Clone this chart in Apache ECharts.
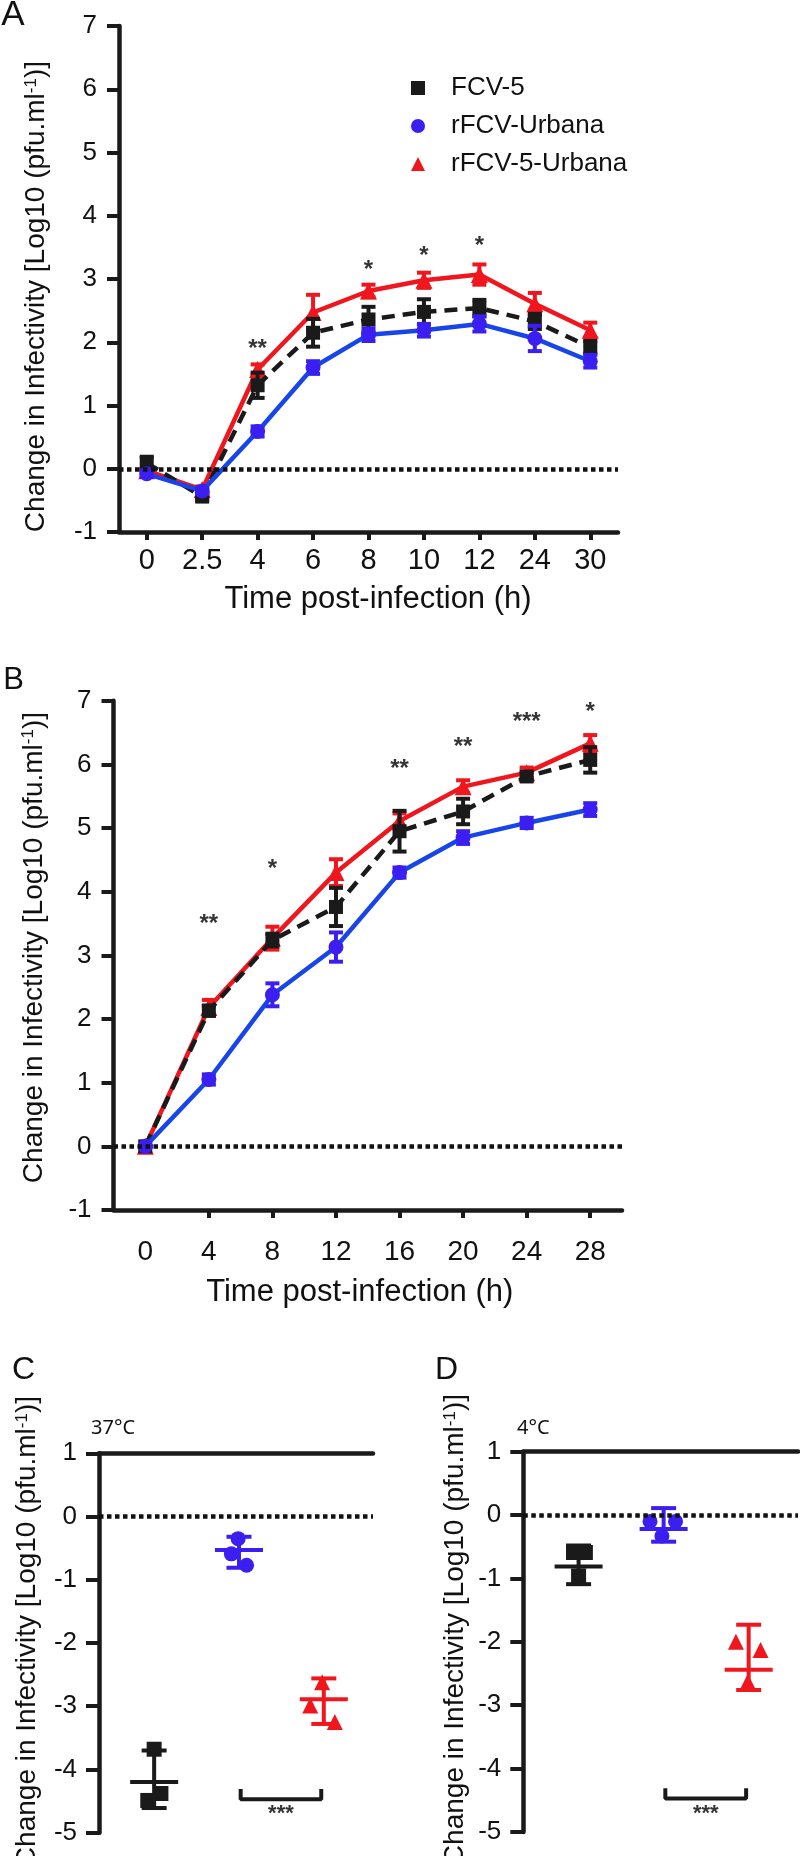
<!DOCTYPE html>
<html>
<head>
<meta charset="utf-8">
<script src="https://cdn.jsdelivr.net/npm/echarts@6/dist/echarts.min.js"></script>
<style>html,body{margin:0;padding:0;background:#fff}#c{width:800px;height:1856px}</style>
</head>
<body>
<div id="c"></div>
<script>
// ---------- DATA ----------
const seriesNames = ['FCV-5', 'rFCV-Urbana', 'rFCV-5-Urbana'];

// Panel A (categorical time points)
const timesA = ['0', '2.5', '4', '6', '8', '10', '12', '24', '30'];
const fcvA      = [0.09, -0.44, 1.32, 2.15, 2.36, 2.48, 2.54, 2.33, 1.92];
const fcvAErr   = [0.10, 0.05, 0.20, 0.22, 0.20, 0.20, 0.13, 0.12, 0.10];
const urbA      = [-0.08, -0.35, 0.59, 1.60, 2.12, 2.19, 2.29, 2.06, 1.70];
const urbAErr   = [0.05, 0.05, 0.08, 0.10, 0.10, 0.10, 0.12, 0.20, 0.10];
const recA      = [-0.03, -0.33, 1.57, 2.47, 2.81, 2.98, 3.07, 2.61, 2.19];
const recAErr   = [0.03, 0.05, 0.08, 0.28, 0.10, 0.12, 0.16, 0.17, 0.12];
const sigA = [['4', 1.99, '**'], ['8', 3.23, '*'], ['10', 3.46, '*'], ['12', 3.61, '*']];

// Panel B
const timesB = ['0', '4', '8', '12', '16', '20', '24', '28'];
const fcvB      = [0, 2.13, 3.24, 3.76, 4.95, 5.26, 5.81, 6.07];
const fcvBErr   = [0, 0.08, 0.10, 0.30, 0.32, 0.20, 0.06, 0.20];
const urbB      = [0, 1.05, 2.38, 3.13, 4.30, 4.85, 5.08, 5.29];
const urbBErr   = [0, 0.08, 0.18, 0.23, 0.08, 0.10, 0.08, 0.10];
const recB      = [0, 2.18, 3.27, 4.30, 5.11, 5.65, 5.87, 6.33];
const recBErr   = [0, 0.12, 0.18, 0.21, 0.12, 0.10, 0.08, 0.13];
const sigB = [['4', 3.58, '**'], ['8', 4.44, '*'], ['16', 6.02, '**'], ['20', 6.36, '**'], ['24', 6.75, '***'], ['28', 6.91, '*']];

// Panel C (37°C): individual replicates, mean, upper and lower error ends
const fcvC  = [-3.68, -4.38, -4.49];
const urbC  = [-0.35, -0.59, -0.77];
const recC  = [-2.62, -2.99, -3.25];
const meanC = [-4.20, -0.53, -2.89];
const highC = [-3.70, -0.32, -2.56];
const lowC  = [-4.61, -0.81, -3.28];

// Panel D (4°C)
const fcvD  = [-0.59, -0.59, -0.96];
const urbD  = [-0.10, -0.10, -0.33];
const recD  = [-2.00, -2.13, -2.63];
const meanD = [-0.81, -0.22, -2.44];
const highD = [-0.48, 0.11, -1.73];
const lowD  = [-1.09, -0.42, -2.76];

// significance brackets (C and D): between group 2 and group 3
const bracketCD = [2.02, 2.97, -4.47, -4.31];
const bracketLabel = '***';

// ---------- STYLE / LAYOUT ----------
const FONT = "'Liberation Sans', Arial, Helvetica, sans-serif";
const NARROW = "'Liberation Sans Narrow', 'Arial Narrow', 'Liberation Sans', Arial, sans-serif";
const BLACK = '#1a1a1a', BLUE = '#3a1ff0', BLUE_LINE = '#1745ea', RED = '#f0161e';
const groupPos = [1, 2, 3];
const jitterC = [[0, 0.08, -0.075], [-0.01, -0.09, 0.09], [-0.02, -0.16, 0.13]];
const jitterD = [[-0.06, 0.08, 0], [-0.16, 0.14, -0.02], [-0.15, 0.14, -0.01]];

const yNameText = '{a|Change in Infectivity [Log10 (pfu.ml}{s|-1}{a|)]}';
function yNameGraphic(x, yTop) {
  return {
    type: 'text', x: x, y: yTop, rotation: Math.PI / 2,
    style: {
      text: yNameText, align: 'right', verticalAlign: 'middle',
      rich: {
        a: { fontSize: 28, fontFamily: FONT, fill: '#111', color: '#111' },
        s: { fontSize: 17, fontFamily: FONT, fill: '#111', color: '#111', verticalAlign: 'top' }
      }
    }
  };
}

function yAxis(grid, min, max, tickLen) {
  return {
    type: 'value', gridIndex: grid, min: min, max: max, interval: 1,
    splitLine: { show: false },
    axisLine: { show: true, onZero: false, lineStyle: { color: BLACK, width: 4.5 } },
    axisTick: { show: true, length: tickLen, lineStyle: { color: BLACK, width: 4 } },
    axisLabel: { fontSize: 26, fontFamily: FONT, color: '#111', margin: 22 }
  };
}

function errSeries(grid, xs, means, errs, color, z, cap) {
  return {
    type: 'custom', xAxisIndex: grid, yAxisIndex: grid, z: z, silent: true,
    itemStyle: { color: color },
    encode: { x: 0, y: [1, 2] },
    data: means.map((m, i) => [i, m - errs[i], m + errs[i]]),
    renderItem: function (params, api) {
      const x = api.value(0);
      const lo = api.coord([x, api.value(1)]);
      const hi = api.coord([x, api.value(2)]);
      const st = { stroke: color, lineWidth: 4 };
      return {
        type: 'group', children: [
          { type: 'line', shape: { x1: lo[0], y1: lo[1], x2: hi[0], y2: hi[1] }, style: st },
          { type: 'line', shape: { x1: hi[0] - cap / 2, y1: hi[1], x2: hi[0] + cap / 2, y2: hi[1] }, style: st },
          { type: 'line', shape: { x1: lo[0] - cap / 2, y1: lo[1], x2: lo[0] + cap / 2, y2: lo[1] }, style: st }
        ]
      };
    }
  };
}

function lineSeries(grid, name, data, color, lineColor, symbol, size, dashed, z) {
  return {
    type: 'line', name: name, xAxisIndex: grid, yAxisIndex: grid, z: z,
    data: data, symbol: symbol, symbolSize: size, showAllSymbol: true,
    itemStyle: { color: color },
    lineStyle: { color: lineColor, width: 4.5, type: dashed ? [13, 8] : 'solid' },
    emphasis: { disabled: true }, animation: false
  };
}

function zeroLine(grid) {
  return {
    type: 'line', xAxisIndex: grid, yAxisIndex: grid, data: [], z: 1, silent: true,
    markLine: {
      silent: true, symbol: 'none', label: { show: false },
      lineStyle: { color: '#111', width: 4.5, type: [4.5, 3.5] },
      data: [{ yAxis: 0 }]
    }
  };
}

function sigSeries(grid, sig, size) {
  return {
    type: 'scatter', xAxisIndex: grid, yAxisIndex: grid, symbolSize: 0, silent: true, z: 6,
    data: sig.map(s => ({ value: [s[0], s[1]], name: s[2] })),
    label: {
      show: true, position: 'inside', formatter: p => p.name,
      fontSize: size, fontWeight: 'bold', fontFamily: FONT, color: '#000', offset: [0, 6]
    }
  };
}

function meanSeries(grid, pos, mean, hi, lo, color, z) {
  return {
    type: 'custom', xAxisIndex: grid, yAxisIndex: grid, z: z, silent: true,
    itemStyle: { color: color },
    encode: { x: 0, y: [1, 2, 3] },
    data: [[pos, mean, lo, hi]],
    renderItem: function (params, api) {
      const x = api.value(0);
      const m = api.coord([x, api.value(1)]);
      const l = api.coord([x, api.value(2)]);
      const h = api.coord([x, api.value(3)]);
      const st = { stroke: color, lineWidth: 4 };
      const mw = 48, cw = 25;
      return {
        type: 'group', children: [
          { type: 'line', shape: { x1: l[0], y1: l[1], x2: h[0], y2: h[1] }, style: st },
          { type: 'line', shape: { x1: m[0] - mw / 2, y1: m[1], x2: m[0] + mw / 2, y2: m[1] }, style: st },
          { type: 'line', shape: { x1: h[0] - cw / 2, y1: h[1], x2: h[0] + cw / 2, y2: h[1] }, style: st },
          { type: 'line', shape: { x1: l[0] - cw / 2, y1: l[1], x2: l[0] + cw / 2, y2: l[1] }, style: st }
        ]
      };
    }
  };
}

function pointSeries(grid, name, pos, vals, jit, color, symbol, size, z) {
  return {
    type: 'scatter', name: name, xAxisIndex: grid, yAxisIndex: grid, z: z,
    symbol: symbol, symbolSize: size, itemStyle: { color: color, opacity: 1 },
    data: vals.map((v, i) => [pos + jit[i], v]), emphasis: { disabled: true }
  };
}

function bracketSeries(grid) {
  const b = bracketCD;
  return [{
    type: 'line', xAxisIndex: grid, yAxisIndex: grid, symbol: 'none', silent: true, z: 3,
    lineStyle: { color: BLACK, width: 4 },
    data: [[b[0], b[3]], [b[0], b[2]], [b[1], b[2]], [b[1], b[3]]]
  }, {
    type: 'scatter', xAxisIndex: grid, yAxisIndex: grid, symbolSize: 0, silent: true,
    data: [{ value: [(b[0] + b[1]) / 2, b[2] - 0.16], name: bracketLabel }],
    label: { show: true, position: 'inside', formatter: p => p.name, fontSize: 22, fontWeight: 'bold', fontFamily: FONT, color: '#000', offset: [0, 5] }
  }];
}

const catXAxis = (grid, cats, margin, fontSize, tickInterval, namePad, nameGap) => ({
  type: 'category', gridIndex: grid, data: cats, boundaryGap: true,
  axisLine: { show: true, onZero: false, lineStyle: { color: BLACK, width: 4.5 } },
  axisTick: { show: true, alignWithLabel: true, length: 8, interval: tickInterval, lineStyle: { color: BLACK, width: 4 } },
  axisLabel: { fontSize: fontSize, fontFamily: NARROW, color: '#111', margin: margin, interval: 0 },
  splitLine: { show: false },
  name: 'Time post-infection (h)', nameLocation: 'middle', nameGap: nameGap,
  nameTextStyle: { fontSize: 31, fontFamily: FONT, color: '#111', padding: namePad }
});

const topXAxis = (grid) => ({
  type: 'value', gridIndex: grid, position: 'top', min: 0.35, max: 3.58,
  axisLine: { show: true, onZero: false, lineStyle: { color: BLACK, width: 4.5 } },
  axisTick: { show: false }, axisLabel: { show: false }, splitLine: { show: false }
});

const option = {
  animation: false,
  backgroundColor: '#fff',
  grid: [
    { left: 119, top: 26, width: 499, height: 506 },
    { left: 113.5, top: 700.7, width: 508.5, height: 509.3 },
    { left: 99, top: 1453.3, width: 274, height: 379.4 },
    { left: 523.3, top: 1451.7, width: 274.7, height: 380.3 }
  ],
  legend: {
    orient: 'vertical', left: 406, top: 69, itemWidth: 14, itemHeight: 14, itemGap: 10,
    selectedMode: false,
    textStyle: { fontSize: 26, fontFamily: NARROW, color: '#111', lineHeight: 28, padding: [0, 0, 0, 21] },
    data: [
      { name: seriesNames[0], icon: 'rect', itemStyle: { color: BLACK } },
      { name: seriesNames[1], icon: 'circle', itemStyle: { color: BLUE } },
      { name: seriesNames[2], icon: 'triangle', itemStyle: { color: RED } }
    ]
  },
  xAxis: [
    catXAxis(0, timesA, 14, 29, 0, [0, 0, 0, 19], 52),
    catXAxis(1, timesB, 28, 28, (i) => i > 0, [0, 16, 0, 0], 67),
    topXAxis(2),
    topXAxis(3)
  ],
  yAxis: [
    yAxis(0, -1, 7, 12),
    yAxis(1, -1, 7, 12),
    yAxis(2, -5, 1, 13),
    yAxis(3, -5, 1, 13)
  ],
  graphic: [
    { type: 'text', x: 13, y: 15, style: { text: 'A', fontSize: 35, fontFamily: FONT, fill: '#111', align: 'center', verticalAlign: 'middle' } },
    { type: 'text', x: 13.5, y: 680, style: { text: 'B', fontSize: 31, fontFamily: FONT, fill: '#111', align: 'center', verticalAlign: 'middle' } },
    { type: 'text', x: 23.5, y: 1370, style: { text: 'C', fontSize: 32, fontFamily: FONT, fill: '#111', align: 'center', verticalAlign: 'middle' } },
    { type: 'text', x: 446.5, y: 1370, style: { text: 'D', fontSize: 32, fontFamily: FONT, fill: '#111', align: 'center', verticalAlign: 'middle' } },
    { type: 'text', x: 91, y: 1428, style: { text: '37°C', fontSize: 20, fontFamily: "'Noto Sans', 'Open Sans', sans-serif", fill: '#111', align: 'left', verticalAlign: 'middle' } },
    { type: 'text', x: 517, y: 1428, style: { text: '4°C', fontSize: 20, fontFamily: "'Noto Sans', 'Open Sans', sans-serif", fill: '#111', align: 'left', verticalAlign: 'middle' } },
    yNameGraphic(36.5, 61),
    yNameGraphic(34, 712),
    yNameGraphic(27.5, 1396),
    yNameGraphic(455.5, 1394)
  ],
  series: [
    // Panel A
    zeroLine(0),
    lineSeries(0, seriesNames[2], recA, RED, RED, 'triangle', 17, false, 2),
    errSeries(0, timesA, recA, recAErr, RED, 2, 14),
    lineSeries(0, seriesNames[0], fcvA, BLACK, BLACK, 'rect', 14, true, 3),
    errSeries(0, timesA, fcvA, fcvAErr, BLACK, 3, 14),
    lineSeries(0, seriesNames[1], urbA, BLUE, BLUE_LINE, 'circle', 15, false, 4),
    errSeries(0, timesA, urbA, urbAErr, BLUE, 4, 14),
    sigSeries(0, sigA, 24),
    // Panel B
    zeroLine(1),
    lineSeries(1, seriesNames[2], recB, RED, RED, 'triangle', 17, false, 2),
    errSeries(1, timesB, recB, recBErr, RED, 2, 14),
    lineSeries(1, seriesNames[0], fcvB, BLACK, BLACK, 'rect', 14, true, 3),
    errSeries(1, timesB, fcvB, fcvBErr, BLACK, 3, 14),
    lineSeries(1, seriesNames[1], urbB, BLUE, BLUE_LINE, 'circle', 15, false, 4),
    errSeries(1, timesB, urbB, urbBErr, BLUE, 4, 14),
    sigSeries(1, sigB, 24),
    // Panel C
    zeroLine(2),
    pointSeries(2, seriesNames[0], groupPos[0], fcvC, jitterC[0], BLACK, 'rect', 15, 3),
    pointSeries(2, seriesNames[1], groupPos[1], urbC, jitterC[1], BLUE, 'circle', 15, 3),
    pointSeries(2, seriesNames[2], groupPos[2], recC, jitterC[2], RED, 'triangle', 16, 3),
    meanSeries(2, groupPos[0], meanC[0], highC[0], lowC[0], BLACK, 4),
    meanSeries(2, groupPos[1], meanC[1], highC[1], lowC[1], BLUE, 4),
    meanSeries(2, groupPos[2], meanC[2], highC[2], lowC[2], RED, 4),
    ...bracketSeries(2),
    // Panel D
    zeroLine(3),
    pointSeries(3, seriesNames[0], groupPos[0], fcvD, jitterD[0], BLACK, 'rect', 15, 3),
    pointSeries(3, seriesNames[1], groupPos[1], urbD, jitterD[1], BLUE, 'circle', 15, 3),
    pointSeries(3, seriesNames[2], groupPos[2], recD, jitterD[2], RED, 'triangle', 16, 3),
    meanSeries(3, groupPos[0], meanD[0], highD[0], lowD[0], BLACK, 4),
    meanSeries(3, groupPos[1], meanD[1], highD[1], lowD[1], BLUE, 4),
    meanSeries(3, groupPos[2], meanD[2], highD[2], lowD[2], RED, 4),
    ...bracketSeries(3)
  ]
};

const chart = echarts.init(document.getElementById('c'), null, { renderer: 'canvas' });
chart.setOption(option);
</script>
</body>
</html>
